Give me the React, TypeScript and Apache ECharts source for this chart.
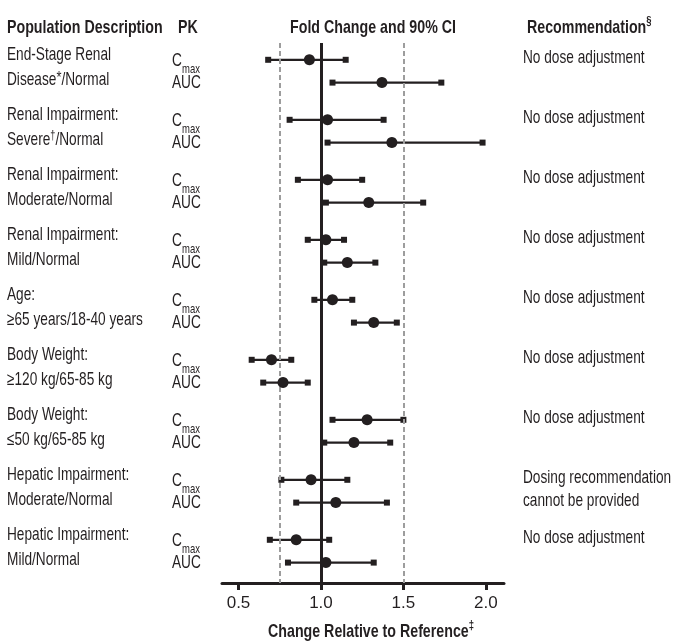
import React, { useEffect, useRef } from 'react';
import * as echarts from 'echarts';

// ---- content ----
const descLine1 = [
  'End-Stage Renal',
  'Renal Impairment:',
  'Renal Impairment:',
  'Renal Impairment:',
  'Age:',
  'Body Weight:',
  'Body Weight:',
  'Hepatic Impairment:',
  'Hepatic Impairment:',
];
const descLine2 = [
  'Disease{ast|*}/Normal',
  'Severe{sup|†}/Normal',
  'Moderate/Normal',
  'Mild/Normal',
  '≥65 years/18-40 years',
  '≥120 kg/65-85 kg',
  '≤50 kg/65-85 kg',
  'Moderate/Normal',
  'Mild/Normal',
];
const recommendations = [
  ['No dose adjustment'],
  ['No dose adjustment'],
  ['No dose adjustment'],
  ['No dose adjustment'],
  ['No dose adjustment'],
  ['No dose adjustment'],
  ['No dose adjustment'],
  ['Dosing recommendation', 'cannot be provided'],
  ['No dose adjustment'],
];

// ---- values (fold change, 90% CI) ----
const cmaxLow = [0.68, 0.81, 0.86, 0.92, 0.96, 0.58, 1.07, 0.76, 0.69];
const cmaxPoint = [0.93, 1.04, 1.04, 1.03, 1.07, 0.7, 1.28, 0.94, 0.85];
const cmaxHigh = [1.15, 1.38, 1.25, 1.14, 1.19, 0.82, 1.5, 1.16, 1.05];
const aucLow = [1.07, 1.04, 1.03, 1.02, 1.2, 0.65, 1.02, 0.85, 0.8];
const aucPoint = [1.37, 1.43, 1.29, 1.16, 1.32, 0.77, 1.2, 1.09, 1.03];
const aucHigh = [1.73, 1.98, 1.62, 1.33, 1.46, 0.92, 1.42, 1.4, 1.32];

const xTicks = [0.5, 1.0, 1.5, 2.0];
const referenceValue = 1.0;
const boundLines = [0.75, 1.5];

const aucOffset = 0.38;

const FONT = "'Liberation Sans', Arial, sans-serif";
const INK = '#231f20';
const FS = 18;
const SX = 0.76; // horizontal condensing of body text
const SXB = 0.79; // horizontal condensing of bold headers

export default function App() {
  const ref = useRef<HTMLDivElement>(null);

  useEffect(() => {
    const chart = echarts.init(ref.current!, null, { renderer: 'svg' });
    const n = cmaxPoint.length;
    const ci: number[][] = [];
    const ends: number[][] = [];
    const pts: number[][] = [];
    for (let i = 0; i < n; i++) {
      const yc = i;
      const ya = i + aucOffset;
      ci.push([cmaxLow[i], cmaxHigh[i], yc], [aucLow[i], aucHigh[i], ya]);
      ends.push([cmaxLow[i], yc], [cmaxHigh[i], yc], [aucLow[i], ya], [aucHigh[i], ya]);
      pts.push([cmaxPoint[i], yc], [aucPoint[i], ya]);
    }

    chart.setOption({
      animation: false,
      grid: { left: 222, top: 43, width: 282, height: 540 },
      xAxis: {
        type: 'value',
        position: 'bottom',
        min: 0.4,
        max: 2.11,
        splitLine: { show: false },
        axisLine: { show: true, onZero: false, lineStyle: { color: INK, width: 3 } },
        axisTick: { show: true, customValues: xTicks, length: 7, lineStyle: { color: INK, width: 3 } },
        axisLabel: {
          customValues: xTicks,
          formatter: (v: number) => v.toFixed(1),
          fontFamily: FONT,
          fontSize: 17,
          color: INK,
          margin: 11,
        },
      },
      yAxis: {
        type: 'value',
        show: false,
        inverse: true,
        min: -0.28,
        max: 8.72,
      },
      series: [
        {
          type: 'line',
          data: [],
          silent: true,
          markLine: {
            silent: true,
            symbol: 'none',
            label: { show: false },
            lineStyle: { color: '#9d9d9d', width: 2, type: [5, 3] },
            data: boundLines.map((v) => ({ xAxis: v })),
          },
        },
        {
          type: 'custom',
          data: ci,
          encode: { x: [0, 1], y: 2 },
          renderItem: (params: any, api: any) => {
            const y = api.value(2);
            const p1 = api.coord([api.value(0), y]);
            const p2 = api.coord([api.value(1), y]);
            return {
              type: 'line',
              shape: { x1: p1[0], y1: p1[1], x2: p2[0], y2: p2[1] },
              style: { stroke: INK, lineWidth: 2.3 },
            };
          },
          z: 3,
        },
        {
          type: 'scatter',
          data: ends,
          symbol: 'rect',
          symbolSize: 6,
          itemStyle: { color: INK, opacity: 1 },
          z: 4,
        },
        {
          type: 'scatter',
          data: pts,
          symbol: 'circle',
          symbolSize: 11,
          itemStyle: { color: INK, opacity: 1 },
          z: 5,
          markLine: {
            silent: true,
            symbol: 'none',
            label: { show: false },
            lineStyle: { color: INK, width: 3, type: 'solid', opacity: 1 },
            data: [{ xAxis: referenceValue }],
          },
        },
      ],
    });

    const txt = (
      x: number,
      y: number,
      text: string,
      opts: { bold?: boolean; align?: string; size?: number } = {}
    ) => ({
      type: 'text',
      x,
      y,
      scaleX: opts.bold ? SXB : SX,
      silent: true,
      style: {
        text,
        fill: INK,
        fontFamily: FONT,
        fontSize: opts.size ?? FS,
        fontWeight: opts.bold ? 'bold' : 'normal',
        align: opts.align ?? 'left',
        verticalAlign: 'middle',
        lineHeight: 22,
        rich: {
          sup: {
            fontFamily: FONT,
            fontSize: 12,
            fontWeight: opts.bold ? 'bold' : 'normal',
            fill: INK,
            lineHeight: 11,
            verticalAlign: 'top',
          },
          ast: {
            fontFamily: FONT,
            fontSize: 17,
            fill: INK,
            lineHeight: 17,
            verticalAlign: 'top',
          },
        },
      },
    });

    const graphics: any[] = [];
    graphics.push(txt(7, 26, 'Population Description', { bold: true }));
    graphics.push(txt(178, 26, 'PK', { bold: true }));
    graphics.push(txt(373, 26, 'Fold Change and 90% CI', { bold: true, align: 'center' }));
    graphics.push(txt(527, 26, 'Recommendation{sup|§}', { bold: true }));
    graphics.push(txt(371, 630, 'Change Relative to Reference{sup|‡}', { bold: true, align: 'center' }));

    for (let i = 0; i < n; i++) {
      const yc = chart.convertToPixel({ gridIndex: 0 }, [1, i])[1];
      graphics.push(txt(7, yc - 5.5, descLine1[i]));
      graphics.push(txt(7, yc + 19.5, descLine2[i]));
      graphics.push(txt(172, yc + 0.5, 'C'));
      graphics.push(txt(182, yc + 9, 'max', { size: 12.5 }));
      graphics.push(txt(172, yc + 22.5, 'AUC'));
      recommendations[i].forEach((line, j) => {
        graphics.push(txt(523, yc - 3 + 23 * j, line));
      });
    }

    chart.setOption({ graphic: graphics });

    return () => chart.dispose();
  }, []);

  return (
    <div
      ref={ref}
      style={{ position: 'fixed', left: 0, top: 0, width: 681, height: 644 }}
    />
  );
}
